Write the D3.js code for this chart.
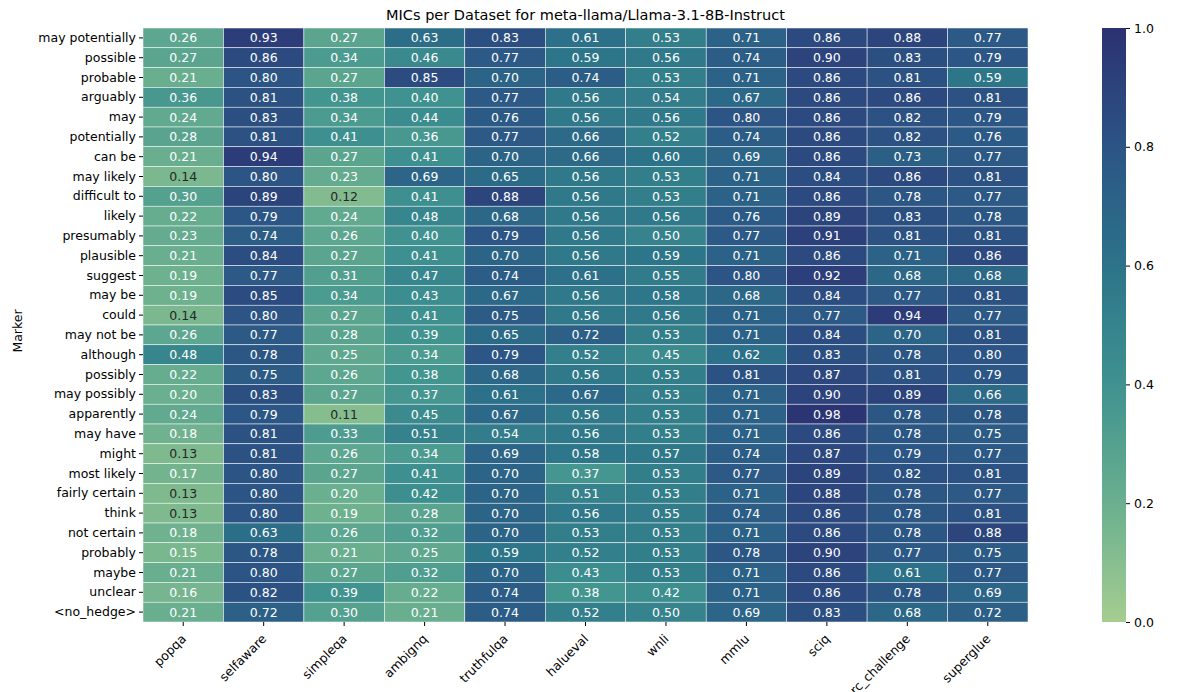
<!DOCTYPE html>
<html><head><meta charset="utf-8">
<script src="https://cdn.jsdelivr.net/npm/d3@7"></script>
<style>body{margin:0;background:#fff;font-family:"DejaVu Sans",sans-serif;}</style>
</head><body><div id="vizDiv"></div>
<script>
const datasets = ["popqa","selfaware","simpleqa","ambignq","truthfulqa","halueval","wnli","mmlu","sciq","arc_challenge","superglue"];
const markers = ["may potentially","possible","probable","arguably","may","potentially","can be","may likely","difficult to","likely","presumably","plausible","suggest","may be","could","may not be","although","possibly","may possibly","apparently","may have","might","most likely","fairly certain","think","not certain","probably","maybe","unclear","<no_hedge>"];
const mics = [
[0.26,0.93,0.27,0.63,0.83,0.61,0.53,0.71,0.86,0.88,0.77],
[0.27,0.86,0.34,0.46,0.77,0.59,0.56,0.74,0.90,0.83,0.79],
[0.21,0.80,0.27,0.85,0.70,0.74,0.53,0.71,0.86,0.81,0.59],
[0.36,0.81,0.38,0.40,0.77,0.56,0.54,0.67,0.86,0.86,0.81],
[0.24,0.83,0.34,0.44,0.76,0.56,0.56,0.80,0.86,0.82,0.79],
[0.28,0.81,0.41,0.36,0.77,0.66,0.52,0.74,0.86,0.82,0.76],
[0.21,0.94,0.27,0.41,0.70,0.66,0.60,0.69,0.86,0.73,0.77],
[0.14,0.80,0.23,0.69,0.65,0.56,0.53,0.71,0.84,0.86,0.81],
[0.30,0.89,0.12,0.41,0.88,0.56,0.53,0.71,0.86,0.78,0.77],
[0.22,0.79,0.24,0.48,0.68,0.56,0.56,0.76,0.89,0.83,0.78],
[0.23,0.74,0.26,0.40,0.79,0.56,0.50,0.77,0.91,0.81,0.81],
[0.21,0.84,0.27,0.41,0.70,0.56,0.59,0.71,0.86,0.71,0.86],
[0.19,0.77,0.31,0.47,0.74,0.61,0.55,0.80,0.92,0.68,0.68],
[0.19,0.85,0.34,0.43,0.67,0.56,0.58,0.68,0.84,0.77,0.81],
[0.14,0.80,0.27,0.41,0.75,0.56,0.56,0.71,0.77,0.94,0.77],
[0.26,0.77,0.28,0.39,0.65,0.72,0.53,0.71,0.84,0.70,0.81],
[0.48,0.78,0.25,0.34,0.79,0.52,0.45,0.62,0.83,0.78,0.80],
[0.22,0.75,0.26,0.38,0.68,0.56,0.53,0.81,0.87,0.81,0.79],
[0.20,0.83,0.27,0.37,0.61,0.67,0.53,0.71,0.90,0.89,0.66],
[0.24,0.79,0.11,0.45,0.67,0.56,0.53,0.71,0.98,0.78,0.78],
[0.18,0.81,0.33,0.51,0.54,0.56,0.53,0.71,0.86,0.78,0.75],
[0.13,0.81,0.26,0.34,0.69,0.58,0.57,0.74,0.87,0.79,0.77],
[0.17,0.80,0.27,0.41,0.70,0.37,0.53,0.77,0.89,0.82,0.81],
[0.13,0.80,0.20,0.42,0.70,0.51,0.53,0.71,0.88,0.78,0.77],
[0.13,0.80,0.19,0.28,0.70,0.56,0.55,0.74,0.86,0.78,0.81],
[0.18,0.63,0.26,0.32,0.70,0.53,0.53,0.71,0.86,0.78,0.88],
[0.15,0.78,0.21,0.25,0.59,0.52,0.53,0.78,0.90,0.77,0.75],
[0.21,0.80,0.27,0.32,0.70,0.43,0.53,0.71,0.86,0.61,0.77],
[0.16,0.82,0.39,0.22,0.74,0.38,0.42,0.71,0.86,0.78,0.69],
[0.21,0.72,0.30,0.21,0.74,0.52,0.50,0.69,0.83,0.68,0.72]
];
const cbTicks = [0.0,0.2,0.4,0.6,0.8,1.0];

const W = 1200, H = 692;
const L = 143, R = 1028, T = 28, B = 622;
const svg = d3.select("#vizDiv").append("svg").attr("width", W).attr("height", H);

// crest-like colormap
const color = d3.scaleLinear()
  .domain([0,0.2,0.4,0.6,0.8,1])
  .range(["#a5cd90","#6aaf8f","#3f9290","#2c7389","#2c5485","#2c3172"])
  .interpolate(d3.interpolateRgb);

const x = d3.scaleBand().domain(datasets).range([L, R]);
const y = d3.scaleBand().domain(markers).range([T, B]);

const cells = [];
mics.forEach((row, i) => row.forEach((v, j) => cells.push({m: markers[i], d: datasets[j], v})));

svg.selectAll("rect.cell").data(cells).join("rect")
  .attr("x", d => x(d.d)).attr("y", d => y(d.m))
  .attr("width", x.bandwidth()).attr("height", y.bandwidth())
  .attr("fill", d => color(d.v)).attr("stroke", "#fff").attr("stroke-width", 0.5);

svg.selectAll("text.val").data(cells).join("text")
  .attr("x", d => x(d.d) + x.bandwidth()/2).attr("y", d => y(d.m) + y.bandwidth()/2)
  .attr("text-anchor", "middle").attr("dominant-baseline", "central")
  .style("font-size", "12.5px")
  .attr("fill", d => d.v < 0.145 ? "#262626" : "#fff")
  .text(d => d.v.toFixed(2));

const ya = svg.append("g").attr("transform", `translate(${L},0)`).call(d3.axisLeft(y).tickSize(4).tickPadding(3));
ya.select(".domain").remove();
ya.selectAll("text").style("font-size", "12.5px").style("font-family", "DejaVu Sans").attr("fill", "#000");

const xa = svg.append("g").attr("transform", `translate(0,${B})`).call(d3.axisBottom(x).tickSize(4).tickPadding(3));
xa.select(".domain").remove();
xa.selectAll("text").style("font-size", "12.5px").style("font-family", "DejaVu Sans").attr("fill", "#000")
  .attr("text-anchor", "end").attr("dy", "0.3em")
  .attr("transform", "translate(-4,10) rotate(-45)");

svg.append("text").attr("x", 16).attr("y", (T + B)/2).attr("transform", `rotate(-90,22,${(T+B)/2})`)
  .attr("text-anchor", "middle").style("font-size", "12.5px").text("Marker");

svg.append("text").attr("x", (L + R)/2).attr("y", 20).attr("text-anchor", "middle")
  .style("font-size", "14.5px").text("MICs per Dataset for meta-llama/Llama-3.1-8B-Instruct");

// colorbar
const cbX = 1102, cbW = 24;
const defs = svg.append("defs");
const grad = defs.append("linearGradient").attr("id", "cb").attr("x1", 0).attr("y1", 1).attr("x2", 0).attr("y2", 0);
d3.range(0, 1.0001, 0.05).forEach(t => grad.append("stop").attr("offset", t).attr("stop-color", color(t)));
svg.append("rect").attr("x", cbX).attr("y", T).attr("width", cbW).attr("height", B - T).attr("fill", "url(#cb)");
const cy = d3.scaleLinear().domain([0, 1]).range([B, T]);
const ca = svg.append("g").attr("transform", `translate(${cbX + cbW},0)`)
  .call(d3.axisRight(cy).tickValues(cbTicks).tickFormat(d3.format(".1f")).tickSize(4).tickPadding(4));
ca.select(".domain").remove();
ca.selectAll("text").style("font-size", "12.5px").style("font-family", "DejaVu Sans").attr("fill", "#000");
</script></body></html>
